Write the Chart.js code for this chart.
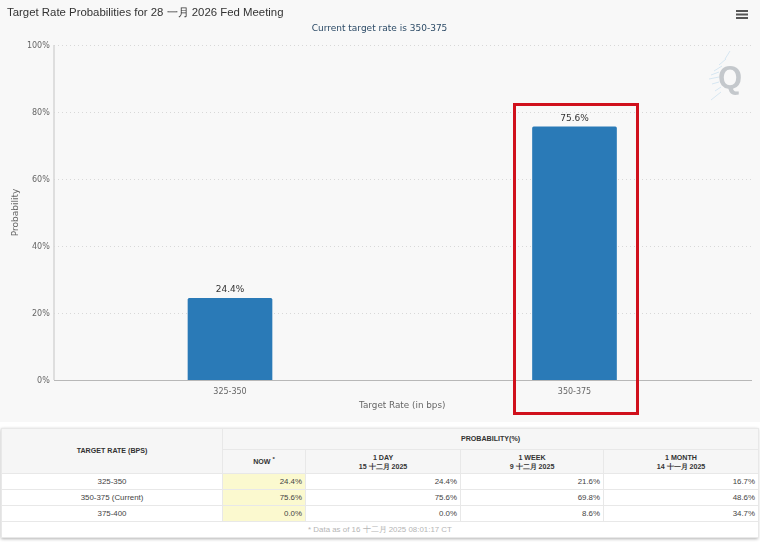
<!DOCTYPE html>
<html>
<head>
<meta charset="utf-8">
<script src="https://cdn.jsdelivr.net/npm/chart.js@4/dist/chart.umd.min.js"></script>
<style>
html, body { margin: 0; padding: 0; background: #fff; }
#page { position: relative; width: 760px; height: 542px; overflow: hidden; font-family: "Liberation Sans", Arial, sans-serif; }
#chartBox { position: absolute; left: 0; top: 0; width: 760px; height: 422px; background: #f8f8f8; }
#title { position: absolute; left: 7px; top: 5px; font-size: 11.4px; color: #333; white-space: nowrap; }
#subtitle { position: absolute; left: 0; width: 759px; top: 23px; text-align: center; font: 9px "DejaVu Sans", sans-serif; color: #2b4a66; }
#menu { position: absolute; left: 736px; top: 10px; width: 12px; height: 2px; background: #555; box-shadow: 0 3.5px 0 #555, 0 7px 0 #555; }
#logo { position: absolute; left: 718px; top: 60px; font: bold 31px "Liberation Sans", sans-serif; color: #c4c8cc; }
#logoRays { position: absolute; left: 706px; top: 50px; }
#redBox { position: absolute; left: 513px; top: 103px; width: 120px; height: 306px; border: 3px solid #d0101c; }
#tableBox { position: absolute; left: 1px; top: 428px; width: 757px; box-shadow: 0 1px 3px rgba(0,0,0,.3); }
table { border-collapse: collapse; table-layout: fixed; width: 757px; font-size: 7.9px; color: #444; background: #fff; }
th { background: #f6f6f6; color: #333; font-size: 7.1px; font-weight: bold; border: 1px solid #e8e8e8; line-height: 8.5px; padding: 0; }
th.sub { padding-top: 2px; }
td { border: 1px solid #e8e8e8; height: 15px; padding: 0 3px; text-align: right; }
td.rate { text-align: center; }
td.now { background: #fbf9cf; }
td.note { text-align: center; color: #b5b5b5; height: 14.5px; }
sup { font-size: 6px; line-height: 0; }
</style>
</head>
<body>
<div id="page">
  <div id="chartBox">
    <canvas id="rateChart" width="760" height="422"></canvas>
    <div id="title">Target Rate Probabilities for 28 一月 2026 Fed Meeting</div>
    <div id="subtitle">Current target rate is 350-375</div>
    <div id="menu"></div>
    <svg id="logoRays" width="30" height="52" stroke="#d6e6f1" stroke-width="1">
      <path d="M24 1 L19 9 M20 9 L13 15 M16 16 L8 21 M13 22 L5 25 M13 27 L3 29 M13 32 L6 34 M15 37 L9 41 M15 42 L5 50"/>
    </svg>
    <div id="logo">Q</div>
    <div id="redBox"></div>
  </div>
  <div id="tableBox"><table id="probTable"></table></div>
</div>
<script>
const categories = ['325-350', '350-375'];
const probabilities = [24.4, 75.6];
const yTicks = [0, 20, 40, 60, 80, 100];

const tableRates = ['325-350', '350-375 (Current)', '375-400'];
const nowValues = ['24.4%', '75.6%', '0.0%'];
const oneDayValues = ['24.4%', '75.6%', '0.0%'];
const oneWeekValues = ['21.6%', '69.8%', '8.6%'];
const oneMonthValues = ['16.7%', '48.6%', '34.7%'];
const columnWidths = [221, 83, 155, 143, 155];

const tickFont = { family: '"DejaVu Sans"', size: 8 };

// dotted grid and axis lines run a little past the category area
const axisLines = {
    id: 'axisLines',
    beforeDatasetsDraw(c) {
        const g = c.ctx;
        const y = c.scales.y;
        g.save();
        g.lineWidth = 1;
        g.strokeStyle = '#d8d8d8';
        g.setLineDash([1, 3]);
        yTicks.slice(1).forEach(v => {
            const py = Math.round(y.getPixelForValue(v)) + 0.5;
            g.beginPath();
            g.moveTo(54, py);
            g.lineTo(752, py);
            g.stroke();
        });
        g.setLineDash([]);
        g.strokeStyle = '#d6d6d6';
        g.lineWidth = 1.5;
        g.beginPath();
        g.moveTo(54, y.getPixelForValue(100));
        g.lineTo(54, y.getPixelForValue(0));
        g.stroke();
        g.strokeStyle = '#b8b8b8';
        g.lineWidth = 1;
        const base = Math.round(y.getPixelForValue(0)) + 0.5;
        g.beginPath();
        g.moveTo(54, base);
        g.lineTo(752, base);
        g.stroke();
        g.restore();
    }
};

const barLabels = {
    id: 'barLabels',
    afterDatasetsDraw(c) {
        const g = c.ctx;
        g.save();
        g.font = '9px "DejaVu Sans"';
        g.fillStyle = '#333';
        g.textAlign = 'center';
        c.getDatasetMeta(0).data.forEach((bar, i) => {
            g.fillText(probabilities[i].toFixed(1) + '%', bar.x, bar.y - 6);
        });
        g.restore();
    }
};

new Chart(document.getElementById('rateChart'), {
    type: 'bar',
    data: {
        labels: categories,
        datasets: [{
            data: probabilities,
            backgroundColor: '#2a7ab7',
            barThickness: 84,
            borderRadius: { topLeft: 1.5, topRight: 1.5 }
        }]
    },
    options: {
        responsive: false,
        animation: false,
        layout: { autoPadding: false, padding: { top: 45, right: 13.25, left: 6, bottom: 7 } },
        plugins: { legend: { display: false }, tooltip: { enabled: false } },
        scales: {
            x: {
                grid: { display: false },
                border: { display: false },
                ticks: { color: '#666', font: tickFont, padding: -1, maxRotation: 0 },
                title: { display: true, text: 'Target Rate (in bps)', color: '#666', font: { family: '"DejaVu Sans"', size: 8.8 }, padding: { top: 3 } },
                afterFit(s) { s.height = 35; }
            },
            y: {
                min: 0,
                max: 100,
                afterBuildTicks(s) { s.ticks = yTicks.map(v => ({ value: v })); },
                grid: { display: false },
                border: { display: false },
                ticks: { color: '#666', font: tickFont, padding: 0, labelOffset: 1, callback: v => v + '%' },
                title: { display: true, text: 'Probability', color: '#666', font: { family: '"DejaVu Sans"', size: 9 }, padding: { bottom: 3 } },
                afterFit(s) { s.width = 51.75; }
            }
        }
    },
    plugins: [axisLines, barLabels]
});

function buildTable() {
    let html = '<colgroup>' + columnWidths.map(w => `<col style="width:${w}px">`).join('') + '</colgroup>';
    html += '<tr style="height:21px"><th rowspan="2">TARGET RATE (BPS)</th><th colspan="4">PROBABILITY(%)</th></tr>';
    html += '<tr style="height:24px"><th class="sub">NOW <sup>*</sup></th><th class="sub">1 DAY<br>15 十二月 2025</th><th class="sub">1 WEEK<br>9 十二月 2025</th><th class="sub">1 MONTH<br>14 十一月 2025</th></tr>';
    tableRates.forEach((rate, i) => {
        html += `<tr><td class="rate">${rate}</td><td class="now">${nowValues[i]}</td><td>${oneDayValues[i]}</td><td>${oneWeekValues[i]}</td><td>${oneMonthValues[i]}</td></tr>`;
    });
    html += '<tr><td class="note" colspan="5">* Data as of 16 十二月 2025 08:01:17 CT</td></tr>';
    document.getElementById('probTable').innerHTML = html;
}
buildTable();
</script>
</body>
</html>
